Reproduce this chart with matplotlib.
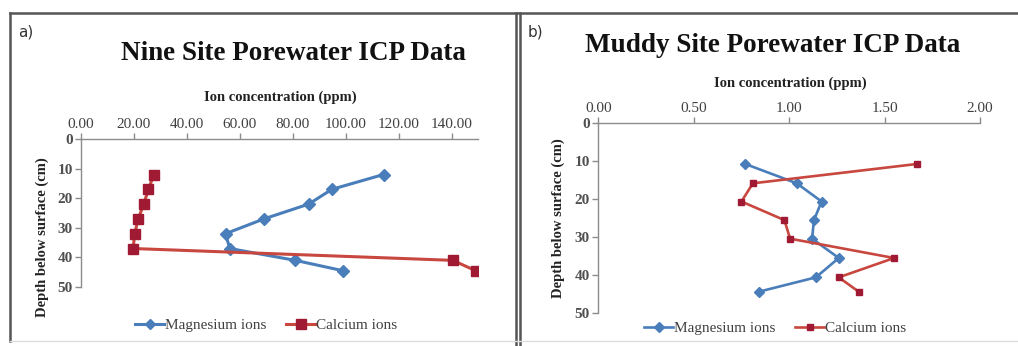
import matplotlib
matplotlib.use("Agg")
import matplotlib.pyplot as plt
from matplotlib.lines import Line2D

# ---- data ----
depth_a = [12, 17, 22, 27, 32, 37, 41, 44.5]
mg_a = [114.3, 94.8, 86.0, 69.1, 54.6, 56.2, 81.0, 99.0]
ca_a = [27.5, 25.5, 23.7, 21.6, 20.3, 19.7, 140.5, 149.1]

depth_b = [10.7, 15.8, 20.6, 25.5, 30.4, 35.5, 40.6, 44.4]
mg_b = [0.77, 1.04, 1.17, 1.13, 1.12, 1.26, 1.14, 0.84]
ca_b = [1.67, 0.81, 0.75, 0.975, 1.005, 1.55, 1.26, 1.365]

xticks_a = [0, 20, 40, 60, 80, 100, 120, 140]
xticks_b = [0.0, 0.5, 1.0, 1.5, 2.0]
yticks = [0, 10, 20, 30, 40, 50]

series_names = ["Magnesium ions", "Calcium ions"]
titles = ["Nine Site Porewater ICP Data", "Muddy Site Porewater ICP Data"]
panel_tags = ["a)", "b)"]
xlabel = "Ion concentration (ppm)"
ylabel = "Depth below surface (cm)"

W, H = 1018, 346
fig = plt.figure(figsize=(W / 100, H / 100), dpi=100)
fig.patch.set_facecolor("white")

def fx(px):
    return px / W

def fy(py):
    return 1 - py / H

SERIF = ["Liberation Serif", "DejaVu Serif"]
BLUE = "#4A7EBB"
RED_LINE = "#C8473F"
RED_MK = "#A01A33"
SPINE = "#8C8C8C"
TXT = "#404040"

def make_axes(l, r, t, b):
    return fig.add_axes([fx(l), fy(b), fx(r) - fx(l), fy(t) - fy(b)])

def style(ax, xticks, xmax):
    ax.set_xlim(0, xmax)
    ax.set_ylim(50, 0)
    ax.xaxis.tick_top()
    ax.set_xticks(xticks)
    ax.set_xticklabels([f"{v:.2f}" for v in xticks])
    ax.set_yticks(yticks)
    for s in ["right", "bottom"]:
        ax.spines[s].set_visible(False)
    for s in ["top", "left"]:
        ax.spines[s].set_color(SPINE)
        ax.spines[s].set_linewidth(1.0)
    ax.tick_params(axis="both", colors=SPINE, length=4, width=1,
                   labelcolor=TXT, labelsize=11, pad=2)
    for lab in ax.get_xticklabels() + ax.get_yticklabels():
        lab.set_family(SERIF)
    for lab in ax.get_yticklabels():
        lab.set_fontweight("bold")
        lab.set_color("#505050")
    ax.set_facecolor("white")

# ---- panel a ----
axa = make_axes(81, 478, 139, 287)
axa.plot(mg_a, depth_a, color=BLUE, lw=2.2, marker="D", ms=6.5,
         mfc=BLUE, mec=BLUE, zorder=3)
axa.plot(ca_a, depth_a, color=RED_LINE, lw=2.2, marker="s", ms=7.5,
         mfc=RED_MK, mec=RED_MK, zorder=3)
style(axa, xticks_a, 150)

# ---- panel b ----
axb = make_axes(598.3, 980, 123.4, 313)
axb.plot(mg_b, depth_b, color=BLUE, lw=1.9, marker="D", ms=5,
         mfc=BLUE, mec=BLUE, zorder=3)
axb.plot(ca_b, depth_b, color=RED_LINE, lw=1.9, marker="s", ms=4.5,
         mfc=RED_MK, mec=RED_MK, zorder=3)
style(axb, xticks_b, 2.0)

# ---- texts ----
fig.text(fx(18), fy(32), panel_tags[0], fontsize=11, color="#333333",
         ha="left", va="center", family="DejaVu Sans")
fig.text(fx(528), fy(32), panel_tags[1], fontsize=11, color="#333333",
         ha="left", va="center", family="DejaVu Sans")

fig.text(fx(293), fy(53), titles[0], fontsize=19.5, fontweight="bold",
         family=SERIF, ha="center", va="center", color="#111111")
fig.text(fx(773), fy(45), titles[1], fontsize=19.5, fontweight="bold",
         family=SERIF, ha="center", va="center", color="#111111")

fig.text(fx(280), fy(97), xlabel, fontsize=10.5, fontweight="bold",
         family=SERIF, ha="center", va="center", color="#222222")
fig.text(fx(790), fy(83), xlabel, fontsize=10.5, fontweight="bold",
         family=SERIF, ha="center", va="center", color="#222222")

fig.text(fx(42), fy(237), ylabel, fontsize=10.5, fontweight="bold",
         family=SERIF, ha="center", va="center", rotation=90, color="#222222")
fig.text(fx(558), fy(218), ylabel, fontsize=10.5, fontweight="bold",
         family=SERIF, ha="center", va="center", rotation=90, color="#222222")

# ---- legends ----
def legend(ax, cx, cy, mk_mg, mk_ca, lw):
    h = [Line2D([], [], color=BLUE, lw=lw, marker="D", ms=mk_mg, mfc=BLUE, mec=BLUE),
         Line2D([], [], color=RED_LINE, lw=lw, marker="s", ms=mk_ca, mfc=RED_MK, mec=RED_MK)]
    leg = ax.legend(h, series_names, loc="center", bbox_to_anchor=(fx(cx), fy(cy)),
                    bbox_transform=fig.transFigure, ncol=2, frameon=False,
                    prop={"family": SERIF, "size": 11}, handlelength=1.9,
                    handletextpad=0.05, columnspacing=1.3)
    for t in leg.get_texts():
        t.set_color(TXT)

legend(axa, 266, 325, 5, 6.5, 2.2)
legend(axb, 775, 328, 5, 4.5, 1.9)

# ---- panel borders ----
dark = "#555555"
fig.add_artist(Line2D([fx(10), fx(1018)], [fy(13), fy(13)], color=dark, lw=1.8))
fig.add_artist(Line2D([fx(10), fx(10)], [fy(13), fy(341)], color=dark, lw=1.8))
fig.add_artist(Line2D([fx(516), fx(516)], [fy(13), fy(346)], color=dark, lw=1.8))
fig.add_artist(Line2D([fx(520), fx(520)], [fy(13), fy(346)], color=dark, lw=1.8))
fig.add_artist(Line2D([fx(10), fx(1018)], [fy(341), fy(341)], color="#dddddd", lw=1.0))

fig.savefig("out.png", dpi=100, facecolor="white")
